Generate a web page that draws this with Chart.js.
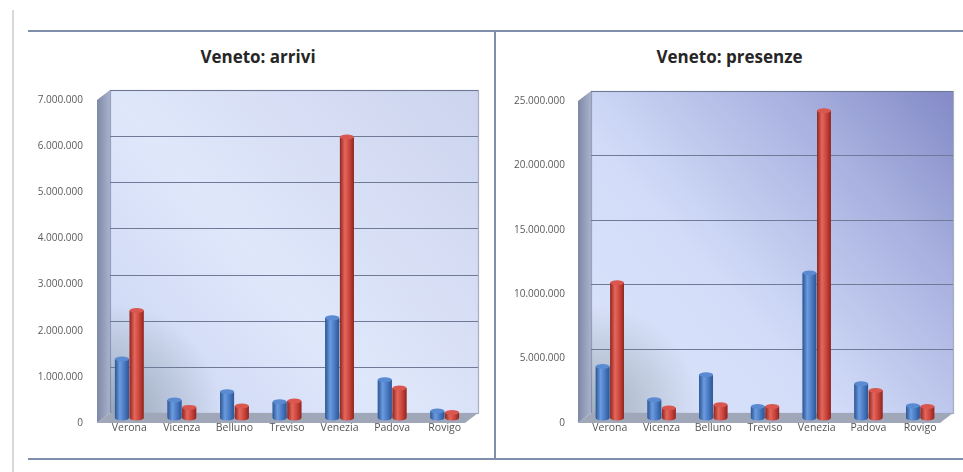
<!DOCTYPE html>
<html lang="it">
<head>
  <meta charset="UTF-8">
  <script src="https://cdn.jsdelivr.net/npm/chart.js"></script>
  <title>Veneto: arrivi e presenze</title>
  <style>
    body {
      margin: 0;
      background: #ffffff;
      font-family: "Open Sans", Arial, sans-serif;
    }

    #page {
      position: relative;
      width: 963px;
      height: 472px;
      overflow: hidden;
    }

    .line { position: absolute; background: #7f8fa9; }

    .title {
      position: absolute;
      top: 45px;
      font-weight: bold;
      font-size: 17px;
      color: #262626;
      text-align: center;
    }

    canvas { position: absolute; top: 0; }
  </style>
</head>
<body>

<div id="page">
  <div class="line" style="left:12px;top:10px;width:2px;height:462px;background:#d6d9de"></div>
  <div class="line" style="left:28px;top:30px;width:935px;height:2px"></div>
  <div class="line" style="left:28px;top:458px;width:935px;height:2px"></div>
  <div class="line" style="left:494px;top:30px;width:2px;height:430px"></div>

  <div class="title" style="left:28px;width:460px">Veneto: arrivi</div>
  <div class="title" style="left:496px;width:467px">Veneto: presenze</div>

  <canvas id="arrivi" width="494" height="472" style="left:0"></canvas>
  <canvas id="presenze" width="467" height="472" style="left:496px"></canvas>
</div>

<script>
  // data (blue = first series, red = second)
  const provinces = ["Verona", "Vicenza", "Belluno", "Treviso", "Venezia", "Padova", "Rovigo"];

  const arriviBlue = [1280000, 390000, 570000, 350000, 2170000, 830000, 150000];
  const arriviRed  = [2330000, 230000, 260000, 370000, 6090000, 650000, 120000];

  const presenzeBlue = [4000000, 1420000, 3360000, 900000, 11260000, 2660000, 950000];
  const presenzeRed  = [10500000, 780000, 1030000, 900000, 23860000, 2140000, 900000];

  const arriviTicks = { max: 7000000, step: 1000000 };
  const presenzeTicks = { max: 25000000, step: 5000000 };

  function fmt(v) {
    return String(v).replace(/\B(?=(\d{3})+(?!\d))/g, ".");
  }

  // fake 3D box: side wall, floor, back wall with gridlines
  const box3d = {
    id: "box3d",
    beforeDatasetsDraw(chart, args, opts) {
      const ctx = chart.ctx;
      const a = chart.chartArea;
      const y = chart.scales.y;
      const bx = 7, by = -5, fx = -6, fy = 5;

      ctx.save();
      // back wall
      const g = ctx.createLinearGradient(a.left, a.bottom, a.right, a.top);
      opts.wall.forEach(s => g.addColorStop(s[0], s[1]));
      ctx.fillStyle = g;
      ctx.fillRect(a.left + bx, a.top + by, a.right - a.left, a.bottom - a.top);

      // dark shading in lower left corner
      const sh = ctx.createRadialGradient(a.left + bx, a.bottom + by, 0, a.left + bx, a.bottom + by, 110);
      sh.addColorStop(0, "rgba(90,110,110,0.45)");
      sh.addColorStop(1, "rgba(90,110,110,0)");
      ctx.fillStyle = sh;
      ctx.fillRect(a.left + bx, a.bottom + by - 120, 130, 120);

      // side wall
      const sg = ctx.createLinearGradient(a.left + fx, 0, a.left + bx, 0);
      sg.addColorStop(0, "#7d88a6");
      sg.addColorStop(1, "#aab3cc");
      ctx.fillStyle = sg;
      ctx.beginPath();
      ctx.moveTo(a.left + fx, a.top + fy);
      ctx.lineTo(a.left + bx, a.top + by);
      ctx.lineTo(a.left + bx, a.bottom + by);
      ctx.lineTo(a.left + fx, a.bottom + fy);
      ctx.closePath();
      ctx.fill();

      // gridlines on the back wall
      ctx.strokeStyle = "#6f7a96";
      ctx.lineWidth = 1.2;
      y.ticks.forEach(t => {
        if (t.value === 0) return;
        const py = Math.round(y.getPixelForValue(t.value) + by) + 0.5;
        ctx.beginPath();
        ctx.moveTo(a.left + bx, py);
        ctx.lineTo(a.right + bx, py);
        ctx.stroke();
      });
      ctx.strokeStyle = "rgba(110,120,150,0.6)";
      ctx.strokeRect(a.left + bx + 0.5, a.top + by + 0.5, a.right - a.left, a.bottom - a.top);

      // floor
      ctx.fillStyle = "#9fa7b8";
      ctx.beginPath();
      ctx.moveTo(a.left + fx, a.bottom + fy);
      ctx.lineTo(a.left + bx, a.bottom + by);
      ctx.lineTo(a.right + bx, a.bottom + by);
      ctx.lineTo(a.right + fx, a.bottom + fy);
      ctx.closePath();
      ctx.fill();
      ctx.restore();
    },
    // cylinder shading and caps over the flat bars
    afterDatasetsDraw(chart) {
      const ctx = chart.ctx;
      chart.data.datasets.forEach((ds, i) => {
        const meta = chart.getDatasetMeta(i);
        const c = ds.shade;
        meta.data.forEach(bar => {
          const w = bar.width, x0 = bar.x - w / 2;
          const g = ctx.createLinearGradient(x0, 0, x0 + w, 0);
          g.addColorStop(0, c[0]);
          g.addColorStop(0.35, c[1]);
          g.addColorStop(0.7, c[2]);
          g.addColorStop(1, c[0]);
          ctx.save();
          ctx.fillStyle = g;
          ctx.fillRect(x0, bar.y, w, bar.base - bar.y);
          ctx.beginPath();
          ctx.ellipse(bar.x, bar.base, w / 2, 2.5, 0, 0, Math.PI);
          ctx.fill();
          ctx.fillStyle = c[3];
          ctx.beginPath();
          ctx.ellipse(bar.x, bar.y, w / 2, 2.5, 0, 0, Math.PI * 2);
          ctx.fill();
          ctx.restore();
        });
      });
    }
  };

  const blueShade = ["#2d5592", "#6b9ce0", "#4677c0", "#5a8ad2"];
  const redShade = ["#8e2620", "#e5675c", "#c8423a", "#d9574e"];

  function makeChart(id, blue, red, ticks, area, wall) {
    new Chart(document.getElementById(id), {
      type: "bar",
      data: {
        labels: provinces,
        datasets: [
          { data: blue, backgroundColor: "#4677c0", shade: blueShade },
          { data: red, backgroundColor: "#c8423a", shade: redShade }
        ]
      },
      options: {
        responsive: false,
        animation: false,
        events: [],
        datasets: { bar: { categoryPercentage: 0.56, barPercentage: 0.95 } },
        layout: { padding: { top: area.top, right: area.right, left: 0, bottom: 0 } },
        plugins: {
          legend: { display: false },
          tooltip: { enabled: false },
          box3d: { wall: wall }
        },
        scales: {
          x: {
            grid: { display: false, drawTicks: false },
            border: { display: false },
            ticks: { color: "#555", font: { family: "Open Sans", size: 10.5 }, padding: 4, maxRotation: 0 },
            afterFit(s) { s.height = 472 - area.bottom; }
          },
          y: {
            min: 0,
            max: ticks.max,
            grid: { display: false, drawTicks: false },
            border: { display: false },
            ticks: {
              stepSize: ticks.step,
              color: "#5a5a5a",
              font: { family: "Open Sans", size: 10 },
              padding: area.labelGap,
              labelOffset: 5,
              callback: v => fmt(v)
            },
            afterFit(s) { s.width = area.left; }
          }
        }
      },
      plugins: [box3d]
    });
  }

  makeChart("arrivi", arriviBlue, arriviRed, arriviTicks,
    { top: 95, bottom: 418, left: 103, right: 23, labelGap: 20 },
    [[0, "#c9d4f2"], [0.45, "#dfe7fb"], [1, "#cdd4ee"]]);

  makeChart("presenze", presenzeBlue, presenzeRed, presenzeTicks,
    { top: 96, bottom: 418, left: 88, right: 17, labelGap: 19 },
    [[0, "#dde5fb"], [0.4, "#d2dcf8"], [0.75, "#a9b2e0"], [1, "#858cc8"]]);
</script>

</body>
</html>
